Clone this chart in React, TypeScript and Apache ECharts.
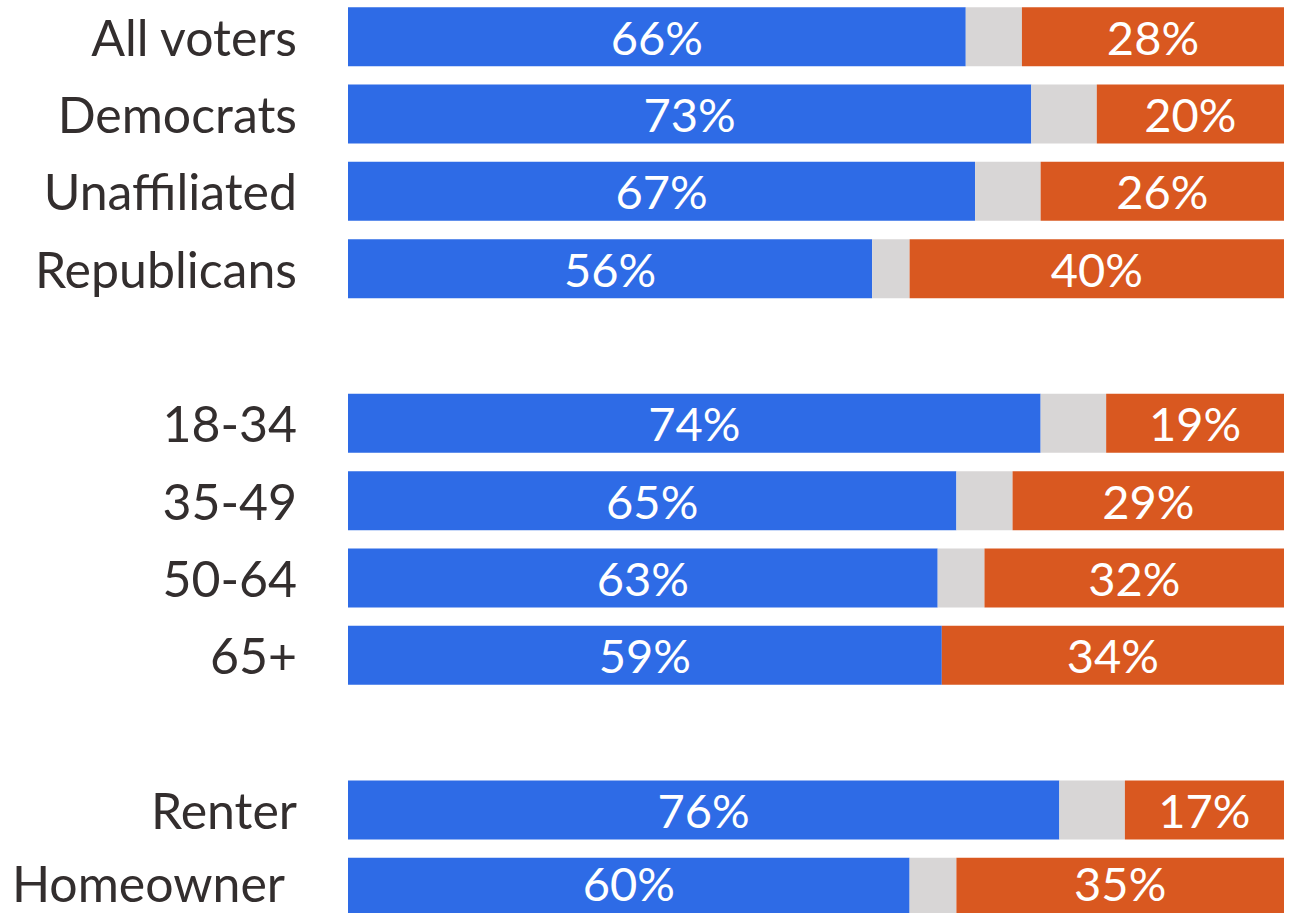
import React, { useEffect, useRef } from "react";
import * as echarts from "echarts";

const categories = ["All voters", "Democrats", "Unaffiliated", "Republicans", " ", "18-34", "35-49", "50-64", "65+", "  ", "Renter", "Homeowner"];
const support = [66, 73, 67, 56, null, 74, 65, 63, 59, null, 76, 60];
const unsure = [6, 7, 7, 4, null, 7, 6, 5, 0, null, 7, 5];
const oppose = [28, 20, 26, 40, null, 19, 29, 32, 34, null, 17, 35];

const FONT = "Lato";
const FS = 50;
const LFS = 47;
const LH = 40;
const TEXT = "#332e2e";
const LAST = categories.length - 1;

function share(arr: (number | null)[], i: number) {
  const a = support[i], b = unsure[i], c = oppose[i];
  const v = arr[i];
  if (v === null || a === null || b === null || c === null) return "-";
  return (v / (a + b + c)) * 100;
}

function seriesData(arr: (number | null)[]) {
  return arr.map((_, i) =>
    i === LAST ? { value: share(arr, i), label: { offset: [0, -4] } } : share(arr, i)
  );
}

export default function App() {
  const ref = useRef<HTMLDivElement>(null);
  useEffect(() => {
    if (!ref.current) return;
    const chart = echarts.init(ref.current, null, { renderer: "svg" });
    const label = (arr: (number | null)[]) => ({
      show: true,
      position: "inside",
      color: "#ffffff",
      fontFamily: FONT,
      fontSize: LFS,
      lineHeight: LH,
      formatter: (p: any) => `${arr[p.dataIndex]}%`,
    });
    chart.setOption({
      animation: false,
      grid: {
        left: 348,
        width: 936,
        top: -2,
        height: 928,
        containLabel: false,
        outerBoundsMode: "none",
      },
      xAxis: { type: "value", min: 0, max: 100, show: false },
      yAxis: {
        type: "category",
        inverse: true,
        data: categories,
        axisLine: { show: false },
        axisTick: { show: false },
        splitLine: { show: false },
        axisLabel: {
          margin: 51,
          fontFamily: FONT,
          fontSize: FS,
          lineHeight: LH,
          color: TEXT,
          formatter: (v: string) => (v === "Homeowner" ? `{h|${v}}` : v),
          rich: {
            h: { fontFamily: FONT, fontSize: FS, lineHeight: LH, color: TEXT, padding: [0, 12, 8, 0] },
          },
        },
      },
      series: [
        {
          name: "Support",
          type: "bar",
          stack: "t",
          barWidth: 59,
          itemStyle: { color: "#2e6be6" },
          label: label(support),
          data: seriesData(support),
        },
        {
          name: "Not sure",
          type: "bar",
          stack: "t",
          barWidth: 59,
          itemStyle: { color: "#d8d6d6" },
          label: { show: false },
          data: unsure.map((_, i) => share(unsure, i)),
        },
        {
          name: "Oppose",
          type: "bar",
          stack: "t",
          barWidth: 59,
          itemStyle: { color: "#d95820" },
          label: label(oppose),
          data: seriesData(oppose),
        },
      ],
    });
    return () => chart.dispose();
  }, []);
  return (
    <div
      ref={ref}
      style={{ position: "absolute", left: 0, top: 0, width: 1299, height: 913 }}
    />
  );
}
